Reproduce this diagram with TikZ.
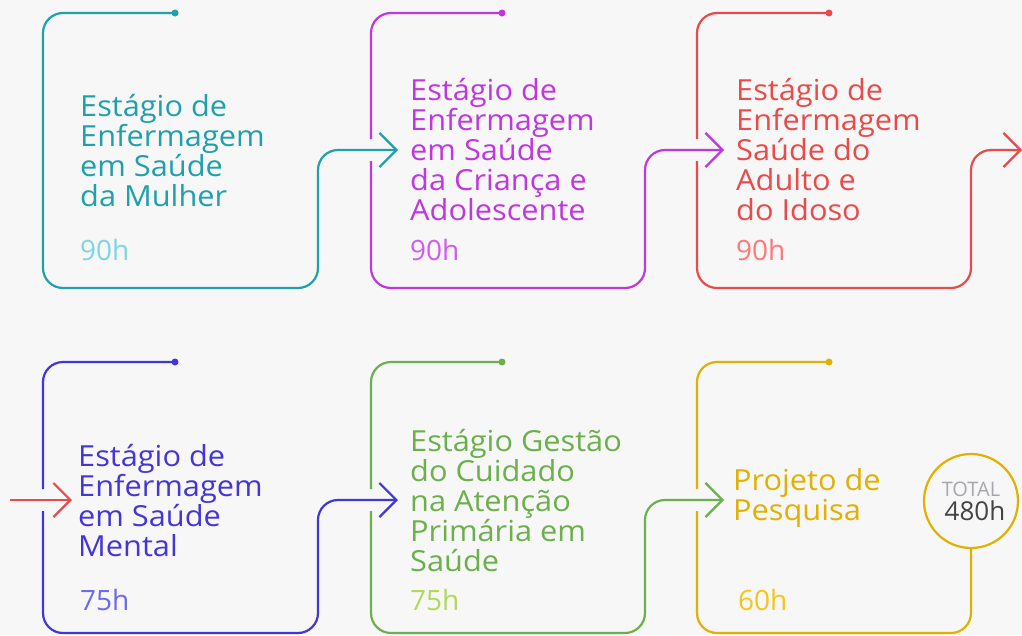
\documentclass[tikz,border=0pt]{standalone}
\usepackage{fontspec}
\setmainfont{Open Sans}
\newfontfamily\largo{Open Sans}[FakeStretch=1.06]
\usetikzlibrary{arrows.meta}

\definecolor{fundo}{HTML}{F7F7F8}
\definecolor{azulA}{HTML}{1FA0AB}
\definecolor{azulB}{HTML}{7ED6DF}
\definecolor{roxoA}{HTML}{BF37DE}
\definecolor{roxoB}{HTML}{CF5CF0}
\definecolor{vermA}{HTML}{E94A4A}
\definecolor{vermB}{HTML}{FF7878}
\definecolor{anilA}{HTML}{4436D6}
\definecolor{anilB}{HTML}{6C6CE4}
\definecolor{verdeA}{HTML}{6BB04B}
\definecolor{verdeB}{HTML}{B2D957}
\definecolor{ouroA}{HTML}{E1B000}
\definecolor{ouroB}{HTML}{F6C51C}
\definecolor{cinzaT}{HTML}{A6A6AE}
\definecolor{cinzaN}{HTML}{444444}

\tikzset{
  linha/.style={line width=2.2pt, rounded corners=20pt},
  seta/.style={linha, -{Straight Barb[length=17pt,width=34pt]}},
  ponto/.style={circle, fill, inner sep=0pt, minimum size=7pt},
  titulo/.style={anchor=west, align=left, inner sep=0pt, font=\largo\fontsize{29}{30}\selectfont},
  horas/.style={anchor=base west, inner sep=0pt, font=\fontsize{28}{30}\selectfont},
}

\begin{document}
\begin{tikzpicture}[x=1pt, y=-1pt]
  \useasboundingbox (0,0) rectangle (1022,635);
  \fill[fundo] (0,0) rectangle (1022,635);

  % Primeira linha - estágios de 90h
  \node at (175,13) (d1) [ponto, azulA] {};
  \node at (502,13) (d2) [ponto, roxoA] {};
  \node at (829,13) (d3) [ponto, vermA] {};
  \coordinate (e2) at (398,150);
  \coordinate (e3) at (724,150);
  \coordinate (e4) at (1022,150);

  \node at (80,151) (t1) [titulo, azulA] {Estágio de\\Enfermagem\\em Saúde\\da Mulher};
  \node at (410,150) (t2) [titulo, roxoA] {Estágio de\\Enfermagem\\em Saúde\\da Criança e\\Adolescente};
  \node at (736,150) (t3) [titulo, vermA] {Estágio de\\Enfermagem\\Saúde do\\Adulto e\\do Idoso};
  \node at (80,260) (h1) [horas, azulB] {90h};
  \node at (410,260) (h2) [horas, roxoB] {90h};
  \node at (736,260) (h3) [horas, vermB] {90h};

  \draw[seta, azulA] (d1.center) -- (43,13) -- (43,288) -- (318,288) -- (318,150) -- (e2);
  \draw[linha, roxoA] (d2.center) -- (371,13) -- (371,139);
  \draw[seta, roxoA] (371,161) -- (371,288) -- (645,288) -- (645,150) -- (e3);
  \draw[linha, vermA] (d3.center) -- (697,13) -- (697,139);
  \draw[seta, vermA] (697,161) -- (697,288) -- (971,288) -- (971,150) -- (e4);

  % Segunda linha
  \node at (175,362) (d4) [ponto, anilA] {};
  \node at (502,362) (d5) [ponto, verdeA] {};
  \node at (829,362) (d6) [ponto, ouroA] {};
  \coordinate (s4) at (10,500);
  \coordinate (e5) at (72,500);
  \coordinate (e6) at (398,500);
  \coordinate (e7) at (724,500);

  \node at (78,501) (t4) [titulo, anilA] {Estágio de\\Enfermagem\\em Saúde\\Mental};
  \node at (410,501) (t5) [titulo, verdeA] {Estágio Gestão\\do Cuidado\\na Atenção\\Primária em\\Saúde};
  \node at (733,498) (t6) [titulo, ouroA] {Projeto de\\Pesquisa};
  \node at (80,610) (h4) [horas, anilB] {75h};
  \node at (410,610) (h5) [horas, verdeB] {75h};
  \node at (738,610) (h6) [horas, ouroB] {60h};

  \draw[seta, vermA] (s4) -- (e5);
  \draw[linha, anilA] (d4.center) -- (43,362) -- (43,489);
  \draw[seta, anilA] (43,511) -- (43,633) -- (318,633) -- (318,500) -- (e6);
  \draw[linha, verdeA] (d5.center) -- (371,362) -- (371,489);
  \draw[seta, verdeA] (371,511) -- (371,633) -- (645,633) -- (645,500) -- (e7);
  \draw[linha, ouroA] (d6.center) -- (697,362) -- (697,489);

  % Total
  \node at (971,501) (tot) [circle, draw=ouroA, line width=2.2pt, fill=fundo, minimum size=94pt] {};
  \node at (971,496) (totA) [anchor=base, inner sep=0pt, cinzaT, font=\fontsize{20}{20}\selectfont] {TOTAL};
  \node at (975,520) (totB) [anchor=base, inner sep=0pt, cinzaN, font=\fontsize{26}{26}\selectfont] {480h};
  \draw[linha, ouroA] (697,511) -- (697,633) -- (971,633) -- (tot.south);
\end{tikzpicture}
\end{document}
